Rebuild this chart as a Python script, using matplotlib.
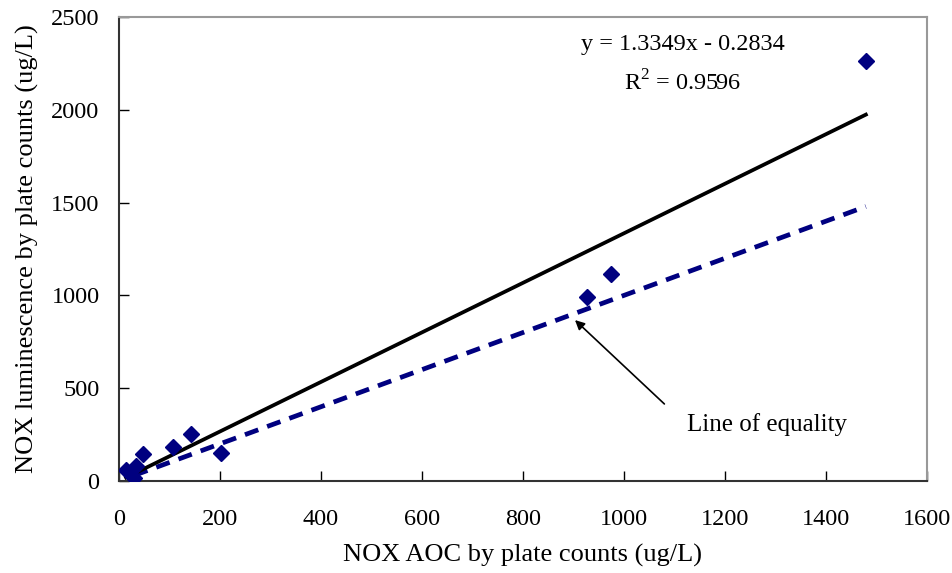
import numpy as np
import matplotlib
matplotlib.use("Agg")
import matplotlib.pyplot as plt

plt.rcParams["font.family"] = ["Liberation Serif", "DejaVu Serif"]
plt.rcParams["mathtext.fontset"] = "custom"
plt.rcParams["mathtext.rm"] = "Liberation Serif"

# plate count AOC (x) vs luminescence AOC (y), ug/L
aoc_plate = [14, 30, 34, 48, 107, 143, 202, 927, 974, 1479]
aoc_lum = [59, 16, 81, 145, 183, 253, 151, 991, 1115, 2263]

slope = 1.3349
intercept = -0.2834
eq_text = "y = 1.3349x - 0.2834"
r2_text = r"R$^{\mathrm{2}}$ = 0.9596"

fig = plt.figure(figsize=(9.52, 5.73), dpi=100)
ax = fig.add_axes([0.125, 0.1606, 0.8487, 0.8097])

x_sorted = np.sort(np.array(aoc_plate, dtype=float))

# line of equality
ax.plot(x_sorted[1:], x_sorted[1:], color="#000080", lw=3.4, ls=(0, (3, 2)))
# regression line
ax.plot(x_sorted, slope * x_sorted + intercept, color="black", lw=2.7)
# data
ax.plot(aoc_plate, aoc_lum, ls="none", marker="D", ms=8, color="#000080", zorder=5)

ax.text(1117, 2354, eq_text, ha="center", va="center", fontsize=17.5)
ax.text(1117, 2144, r2_text, ha="center", va="center", fontsize=17.5)

ax.annotate("", xy=(903, 867), xytext=(1080, 415),
            arrowprops=dict(arrowstyle="-|>", color="black", lw=1.2,
                            shrinkA=0, shrinkB=0, mutation_scale=14))
ax.text(1125, 302, "Line of equality", fontsize=18, ha="left", va="center")

ax.set_xlim(0, 1600)
ax.set_ylim(0, 2500)
ax.set_xticks(np.arange(0, 1601, 200))
ax.set_yticks(np.arange(0, 2501, 500))
ax.tick_params(direction="in", length=7, width=1, labelsize=17.5)
ax.tick_params(axis="x", pad=20)
ax.tick_params(axis="y", pad=14)
ax.set_xlabel("NOX AOC by plate counts (ug/L)", fontsize=19, labelpad=10)
ax.set_ylabel("NOX luminescence by plate counts (ug/L)", fontsize=19, labelpad=9)

for side in ["left", "bottom"]:
    ax.spines[side].set_color("#333333")
    ax.spines[side].set_linewidth(1.5)
for side in ["right", "top"]:
    ax.spines[side].set_color("#999999")
    ax.spines[side].set_linewidth(1.5)

fig.savefig("out.png", dpi=100)
